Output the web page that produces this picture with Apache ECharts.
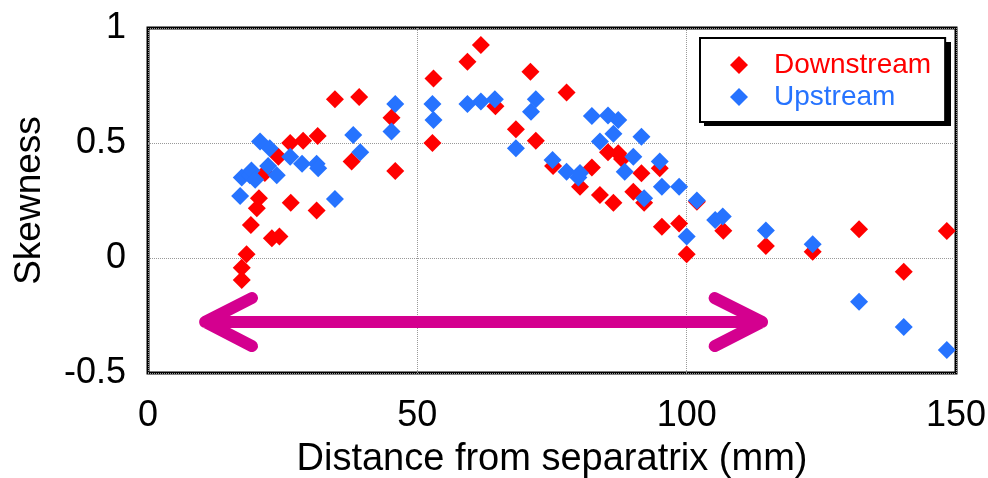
<!DOCTYPE html>
<html>
<head>
<meta charset="utf-8">
<script src="https://cdn.jsdelivr.net/npm/echarts@6/dist/echarts.min.js"></script>
<style>
    html, body { margin: 0; padding: 0; background: #fff; }
    #chart { width: 988px; height: 478px; }
</style>
</head>
<body>
<div id="chart"></div>
<script>
// 数据：距离 (mm), 偏度
const downstream = [
    [17.4, -0.096], [17.4, -0.042], [18.3, 0.016], [19.1, 0.143], [20.2, 0.216], [20.6, 0.26],
    [21.7, 0.37], [23.0, 0.086], [24.4, 0.093], [24.2, 0.44], [26.4, 0.50], [26.5, 0.24],
    [28.8, 0.51], [31.3, 0.206], [31.5, 0.53], [34.7, 0.69], [37.8, 0.42], [39.2, 0.70],
    [45.2, 0.61], [45.9, 0.378], [52.8, 0.50], [53.0, 0.78], [59.3, 0.853], [61.8, 0.926],
    [64.5, 0.66], [68.3, 0.56], [71.0, 0.81], [72.0, 0.51], [75.2, 0.40], [77.7, 0.72],
    [80.2, 0.31], [82.4, 0.394], [83.9, 0.274], [85.4, 0.46], [86.4, 0.24], [87.3, 0.455],
    [88.0, 0.43], [90.1, 0.288], [91.6, 0.368], [92.1, 0.24], [95.0, 0.39], [95.4, 0.136],
    [98.6, 0.15], [100.0, 0.016], [101.9, 0.245], [106.8, 0.119], [114.7, 0.052],
    [123.4, 0.027], [132.0, 0.125], [140.3, -0.06], [148.3, 0.117]
];
const upstream = [
    [17.1, 0.27], [17.4, 0.35], [18.9, 0.36], [19.2, 0.38], [19.9, 0.34], [20.8, 0.506],
    [22.3, 0.40], [22.6, 0.477], [23.9, 0.36], [26.4, 0.44], [28.6, 0.41], [31.3, 0.41],
    [31.6, 0.39], [34.7, 0.256], [38.1, 0.535], [39.4, 0.46], [45.2, 0.55], [45.9, 0.67],
    [52.8, 0.67], [53.0, 0.60], [59.3, 0.67], [61.8, 0.68], [64.4, 0.69], [68.3, 0.477],
    [71.1, 0.636], [72.0, 0.69], [75.1, 0.426], [77.7, 0.375], [79.9, 0.35], [80.2, 0.37],
    [82.4, 0.617], [83.9, 0.506], [85.4, 0.62], [86.4, 0.54], [87.3, 0.60], [88.5, 0.375],
    [90.1, 0.44], [91.6, 0.527], [92.1, 0.26], [95.0, 0.42], [95.4, 0.31], [98.6, 0.31],
    [100.0, 0.093], [101.9, 0.25], [105.3, 0.165], [106.7, 0.18], [114.7, 0.12],
    [123.4, 0.06], [132.0, -0.19], [140.3, -0.30], [148.3, -0.40]
];
// 双向箭头（数据坐标），'-' 断开线段
const arrowPath = [
    [19.3, -0.174], [10.6, -0.278], [19.3, -0.383], '-',
    [10.6, -0.278], [114.0, -0.278], '-',
    [105.2, -0.174], [114.0, -0.278], [105.2, -0.383]
];
const seriesNames = ['Downstream', 'Upstream'];

const FONT = 'Liberation Sans, Arial, sans-serif';
const RED = '#ff0000';
const BLUE = '#2673ff';
const MAGENTA = '#d4008f';

const chart = echarts.init(document.getElementById('chart'));
const option = {
    animation: false,
    textStyle: { fontFamily: FONT },
    grid: {
        left: 148, right: 32, top: 28, bottom: 105,
        outerBoundsMode: 'none',
        show: true,
        borderColor: '#000',
        borderWidth: 3,
        backgroundColor: 'transparent'
    },
    // 图例阴影
    graphic: [
        {
            type: 'rect',
            left: 704, top: 42,
            shape: { width: 247, height: 84 },
            style: { fill: '#000' },
            z: 1
        }
    ],
    legend: {
        left: 700, top: 38,
        orient: 'vertical',
        padding: [13, 14, 11, 30],
        itemWidth: 18, itemHeight: 18, itemGap: 4,
        backgroundColor: '#fff',
        borderColor: '#000',
        borderWidth: 2,
        z: 10,
        textStyle: { fontSize: 28, lineHeight: 28, fontFamily: FONT, padding: [0, 0, 0, 21] },
        data: [
            { name: seriesNames[0], icon: 'diamond', textStyle: { color: RED } },
            { name: seriesNames[1], icon: 'diamond', textStyle: { color: BLUE } }
        ]
    },
    xAxis: {
        type: 'value',
        min: 0, max: 150, interval: 50,
        name: 'Distance from separatrix (mm)',
        nameLocation: 'middle',
        nameGap: 68,
        nameTextStyle: { fontSize: 38, color: '#000', fontFamily: FONT },
        axisLine: { show: false },
        axisTick: { show: false },
        axisLabel: { fontSize: 36, color: '#000', margin: 25, fontFamily: FONT },
        splitLine: { show: true, lineStyle: { color: '#999', type: 'dotted', width: 1 } }
    },
    yAxis: {
        type: 'value',
        min: -0.5, max: 1, interval: 0.5,
        name: 'Skewness',
        nameLocation: 'middle',
        nameGap: 100,
        nameTextStyle: { fontSize: 37, color: '#000', fontFamily: FONT },
        axisLine: { show: false },
        axisTick: { show: false },
        axisLabel: { fontSize: 36, color: '#000', margin: 22, fontFamily: FONT },
        splitLine: { show: true, lineStyle: { color: '#999', type: 'dotted', width: 1 } }
    },
    series: [
        {
            name: seriesNames[0],
            type: 'scatter',
            symbol: 'diamond',
            symbolSize: 18,
            itemStyle: { color: RED, opacity: 1 },
            data: downstream,
            z: 3
        },
        {
            name: seriesNames[1],
            type: 'scatter',
            symbol: 'diamond',
            symbolSize: 18,
            itemStyle: { color: BLUE, opacity: 1 },
            data: upstream,
            z: 4
        },
        {
            name: 'arrow',
            type: 'line',
            data: arrowPath,
            symbol: 'none',
            connectNulls: false,
            lineStyle: { color: MAGENTA, width: 12, cap: 'round', join: 'round' },
            silent: true,
            z: 2
        }
    ]
};
chart.setOption(option);
window.addEventListener('resize', function() {
    chart.resize();
});
</script>
</body>
</html>
